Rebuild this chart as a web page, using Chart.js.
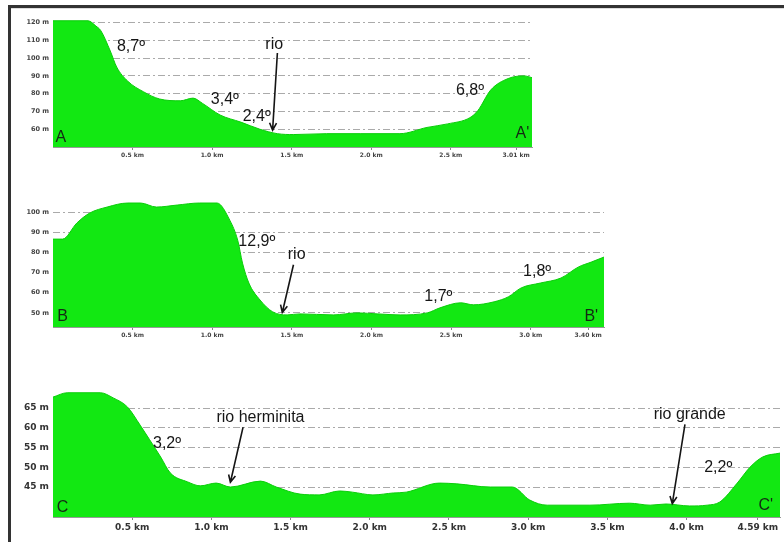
<!DOCTYPE html>
<html>
<head>
<meta charset="utf-8">
<script src="https://cdn.jsdelivr.net/npm/chart.js@4"></script>
<style>
  body { margin: 0; background: #fff; }
  #page { position: relative; width: 784px; height: 542px; overflow: hidden; background: #fff; }
  canvas { position: absolute; left: 0; }
  .edge { position: absolute; background: #333; }
</style>
</head>
<body>
<div id="page">
  <div class="edge" style="left:8px;top:5px;width:776px;height:3px;"></div>
  <div class="edge" style="left:8px;top:5px;width:3px;height:537px;"></div>
  <div class="edge" style="left:11px;top:8px;width:773px;height:1px;background:#ddd;"></div>
  <canvas id="perfilA" width="784" height="170" style="top:0px"></canvas>
  <canvas id="perfilB" width="784" height="170" style="top:180px"></canvas>
  <canvas id="perfilC" width="784" height="172" style="top:370px"></canvas>
</div>
<script>
// perfil A - A'
const kmA = [0, 0.22, 0.27, 0.30, 0.36, 0.40, 0.47, 0.57, 0.67, 0.80, 0.88, 0.94, 1.05, 1.18, 1.30, 1.41, 1.51, 1.72, 1.93, 2.18, 2.35, 2.48, 2.62, 2.67, 2.75, 2.86, 2.96, 3.01];
const elevA = [121, 121, 118, 115.5, 104, 95, 87, 81, 77, 76, 77.5, 74.5, 68, 64, 60, 57.5, 57, 57.5, 57.5, 57.5, 61, 63, 66.5, 70.5, 82, 88.5, 90, 89];
const yTicksA = [60, 70, 80, 90, 100, 110, 120];
const xTicksA = [0.5, 1.0, 1.5, 2.0, 2.5, 2.91];
const xLabelsA = ['0.5 km', '1.0 km', '1.5 km', '2.0 km', '2.5 km', '3.01 km'];

// perfil B - B'
const kmB = [0, 0.06, 0.15, 0.23, 0.34, 0.47, 0.55, 0.65, 0.78, 0.92, 1.03, 1.11, 1.16, 1.19, 1.23, 1.30, 1.38, 1.47, 1.55, 1.76, 1.91, 2.04, 2.18, 2.35, 2.43, 2.56, 2.64, 2.77, 2.86, 2.94, 3.06, 3.19, 3.30, 3.38, 3.46];
const elevB = [86.6, 86.6, 94.6, 99.5, 102.5, 104.5, 104.5, 102.5, 103.5, 104.5, 104.5, 96, 86, 74.7, 64.8, 56.4, 50.5, 49, 49.5, 49, 50, 49.5, 49, 50, 52.5, 55, 54, 55.5, 58, 62.4, 64.8, 67.3, 72.8, 75.2, 77.7];
const yTicksB = [50, 60, 70, 80, 90, 100];
const xTicksB = [0.5, 1.0, 1.5, 2.0, 2.5, 3.0, 3.36];
const xLabelsB = ['0.5 km', '1.0 km', '1.5 km', '2.0 km', '2.5 km', '3.0 km', '3.40 km'];

// perfil C - C'
const kmC = [0, 0.09, 0.30, 0.38, 0.47, 0.55, 0.61, 0.68, 0.74, 0.85, 0.93, 1.03, 1.12, 1.31, 1.41, 1.56, 1.68, 1.81, 1.89, 2.02, 2.15, 2.23, 2.44, 2.55, 2.76, 2.90, 3.01, 3.12, 3.39, 3.64, 3.77, 3.87, 4.02, 4.13, 4.21, 4.32, 4.40, 4.48, 4.59];
const elevC = [67.8, 68.9, 68.9, 67.6, 65.3, 60.7, 57, 52.6, 48.6, 46.3, 45.3, 46, 45, 46.5, 45, 43.2, 43, 44, 43.7, 43, 43.5, 43.7, 46, 45.8, 45, 45, 41.7, 40.4, 40.4, 40.9, 40.4, 40.7, 40.2, 40.4, 41.2, 46, 50, 52.6, 53.6];
const yTicksC = [45, 50, 55, 60, 65];
const xTicksC = [0.5, 1.0, 1.5, 2.0, 2.5, 3.0, 3.5, 4.0, 4.45];
const xLabelsC = ['0.5 km', '1.0 km', '1.5 km', '2.0 km', '2.5 km', '3.0 km', '3.5 km', '4.0 km', '4.59 km'];

// textos (km, m)
const notesA = [
  { text: '8,7º', km: 0.49, m: 106.3 },
  { text: 'rio', km: 1.39, m: 107.4 },
  { text: '3,4º', km: 1.08, m: 76.5 },
  { text: '2,4º', km: 1.28, m: 67 },
  { text: '6,8º', km: 2.62, m: 81.6 },
  { text: 'A', km: 0.05, m: 55.5, corner: true },
  { text: "A'", km: 2.95, m: 57.5, corner: true }
];
const arrowsA = [[1.41, 102.9, 1.38, 59.5]];

const notesB = [
  { text: '12,9º', km: 1.28, m: 85.2 },
  { text: 'rio', km: 1.53, m: 78.8 },
  { text: '1,7º', km: 2.42, m: 58 },
  { text: '1,8º', km: 3.04, m: 70.4 },
  { text: 'B', km: 0.06, m: 48, corner: true },
  { text: "B'", km: 3.38, m: 48, corner: true }
];
const arrowsB = [[1.51, 73.9, 1.44, 50.2]];

const notesC = [
  { text: '3,2º', km: 0.72, m: 56.1 },
  { text: 'rio herminita', km: 1.31, m: 62.7 },
  { text: 'rio grande', km: 4.02, m: 63.4 },
  { text: '2,2º', km: 4.20, m: 49.9 },
  { text: 'C', km: 0.06, m: 39.9, corner: true },
  { text: "C'", km: 4.50, m: 40.4, corner: true }
];
const arrowsC = [[1.20, 60.2, 1.12, 46.2], [3.99, 60.9, 3.91, 40.8]];

const verde = 'rgb(18, 232, 18)';

const profileNotes = {
  id: 'profileNotes',
  afterDraw(chart, args, opts) {
    const ctx = chart.ctx;
    const x = chart.scales.x, y = chart.scales.y;
    ctx.save();
    ctx.textAlign = 'center';
    ctx.textBaseline = 'middle';
    opts.notes.forEach(n => {
      ctx.font = '16px "Liberation Sans", Arial';
      ctx.fillStyle = n.corner ? '#142814' : '#161616';
      ctx.fillText(n.text, x.getPixelForValue(n.km), y.getPixelForValue(n.m));
    });
    ctx.strokeStyle = '#151515';
    ctx.lineWidth = 1.6;
    opts.arrows.forEach(a => {
      const x1 = x.getPixelForValue(a[0]), y1 = y.getPixelForValue(a[1]);
      const x2 = x.getPixelForValue(a[2]), y2 = y.getPixelForValue(a[3]);
      const ang = Math.atan2(y2 - y1, x2 - x1);
      ctx.beginPath();
      ctx.moveTo(x1, y1);
      ctx.lineTo(x2, y2);
      ctx.moveTo(x2 - 8 * Math.cos(ang - 0.45), y2 - 8 * Math.sin(ang - 0.45));
      ctx.lineTo(x2, y2);
      ctx.lineTo(x2 - 8 * Math.cos(ang + 0.45), y2 - 8 * Math.sin(ang + 0.45));
      ctx.stroke();
    });
    ctx.restore();
  }
};

function perfil(id, km, elev, cfg) {
  new Chart(document.getElementById(id), {
    type: 'line',
    data: {
      datasets: [{
        data: km.map((k, i) => ({ x: k, y: elev[i] })),
        fill: 'start',
        backgroundColor: verde,
        borderColor: 'rgb(10, 205, 10)',
        borderWidth: 1,
        pointRadius: 0,
        cubicInterpolationMode: 'monotone'
      }]
    },
    options: {
      responsive: false,
      animation: false,
      layout: { padding: { top: cfg.top, right: 784 - cfg.right, left: 0, bottom: 0 } },
      plugins: {
        legend: { display: false },
        tooltip: { enabled: false },
        profileNotes: { notes: cfg.notes, arrows: cfg.arrows }
      },
      scales: {
        x: {
          type: 'linear',
          min: 0,
          max: km[km.length - 1],
          afterFit: s => { s.height = cfg.axisH; s.paddingLeft = 0; s.paddingRight = 0; },
          afterBuildTicks: s => { s.ticks = cfg.xTicks.map(v => ({ value: v })); },
          border: { color: '#999' },
          grid: { drawOnChartArea: false, drawTicks: true, tickLength: 3, color: '#888' },
          ticks: {
            autoSkip: false,
            maxRotation: 0,
            padding: 2,
            color: cfg.tickColor,
            font: { family: 'DejaVu Sans', weight: 'bold', size: cfg.xFont },
            callback: (v, i) => cfg.xLabels[i]
          }
        },
        y: {
          min: cfg.ymin,
          max: cfg.ymax,
          z: 1,
          afterFit: s => { s.width = 53; },
          afterBuildTicks: s => { s.ticks = cfg.yTicks.map(v => ({ value: v })); },
          border: { display: false, dash: [7, 3, 2, 3] },
          grid: { color: 'rgba(85, 85, 85, 0.5)', drawTicks: false },
          ticks: {
            padding: 4,
            color: cfg.tickColor,
            font: { family: 'DejaVu Sans', weight: 'bold', size: cfg.yFont },
            callback: v => v + ' m'
          }
        }
      }
    },
    plugins: [profileNotes]
  });
}

perfil('perfilA', kmA, elevA, {
  top: 19, right: 532, axisH: 23, ymin: 50, ymax: 122,
  yTicks: yTicksA, xTicks: xTicksA, xLabels: xLabelsA,
  xFont: 6, yFont: 6.5, tickColor: '#444', notes: notesA, arrows: arrowsA
});
perfil('perfilB', kmB, elevB, {
  top: 20, right: 604, axisH: 23, ymin: 43, ymax: 106,
  yTicks: yTicksB, xTicks: xTicksB, xLabels: xLabelsB,
  xFont: 6, yFont: 6.5, tickColor: '#444', notes: notesB, arrows: arrowsB
});
perfil('perfilC', kmC, elevC, {
  top: 20, right: 780, axisH: 25, ymin: 37.4, ymax: 69.6,
  yTicks: yTicksC, xTicks: xTicksC, xLabels: xLabelsC,
  xFont: 9, yFont: 9, tickColor: '#333', notes: notesC, arrows: arrowsC
});
</script>
</body>
</html>
